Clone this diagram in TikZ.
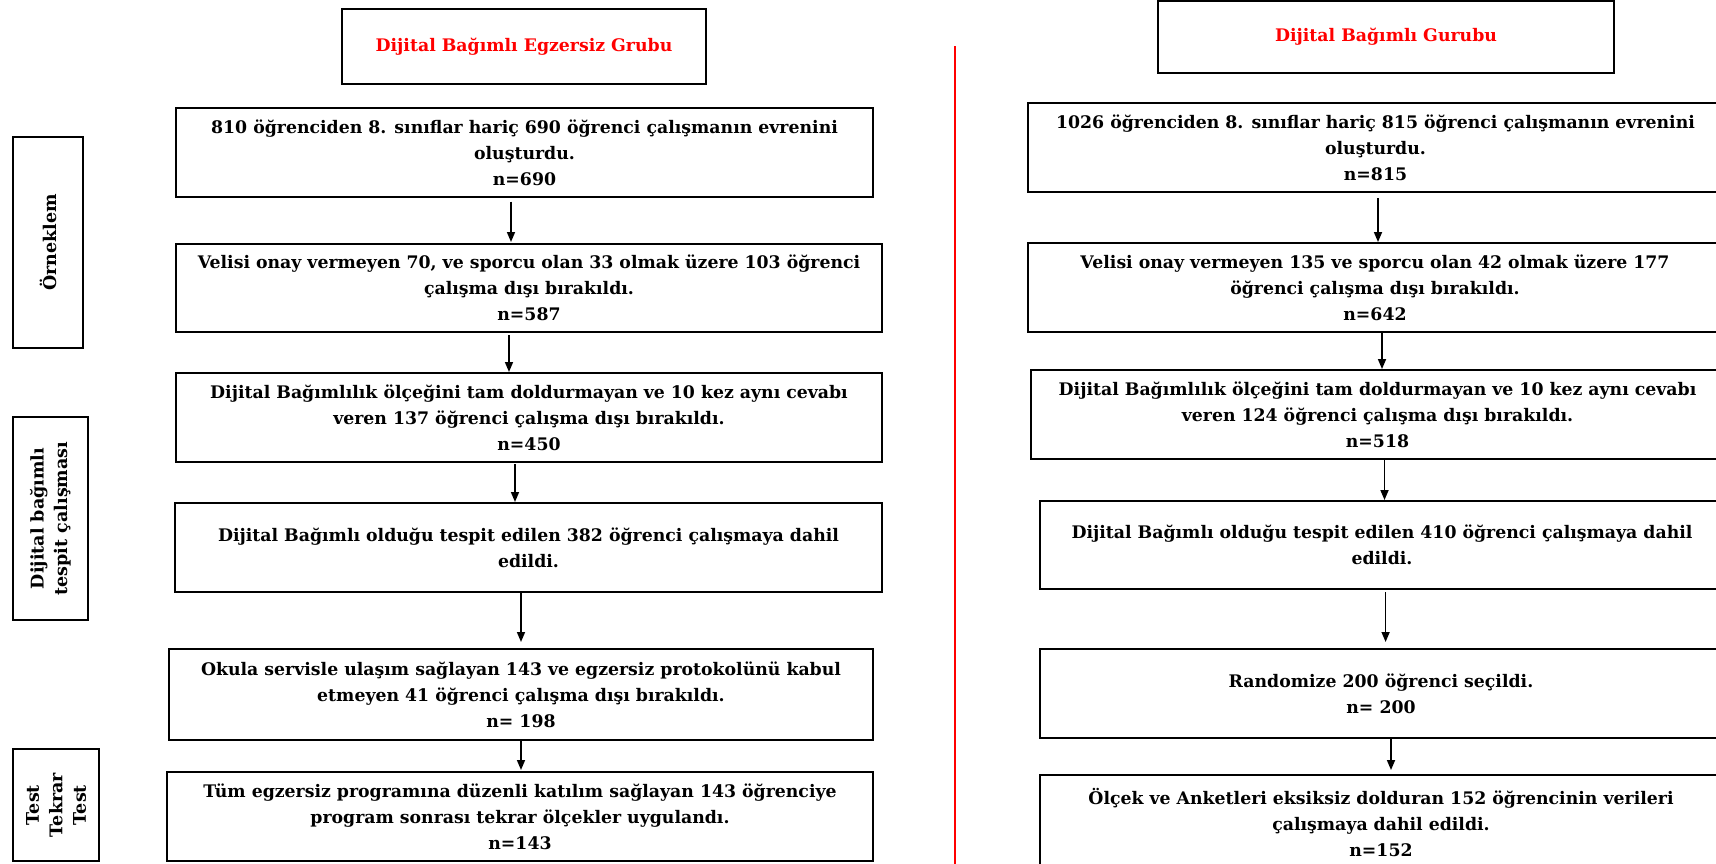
\documentclass[tikz,border=0pt]{standalone}
\usepackage{fontspec}
\setmainfont{DejaVu Serif}
\usetikzlibrary{arrows.meta}
\begin{document}
\begin{tikzpicture}[x=1pt,y=-1pt,
  stepbox/.style={draw=black,line width=2.5pt,inner sep=0pt,outer sep=0pt,align=center,
     font=\bfseries\fontsize{17.3}{25.8}\selectfont},
  titlebox/.style={stepbox,text=red},
  sidebox/.style={draw=black,line width=2.5pt,inner sep=0pt,outer sep=0pt,align=center,rotate=90,
     font=\bfseries\fontsize{17.5}{23.5}\selectfont},
  arr/.style={draw=black,line width=1.6pt,-{Triangle[length=10pt,width=8pt]}},
  divider/.style={draw=red,line width=2pt}]
\useasboundingbox (0,0) rectangle (1716,863);
\clip (0,0) rectangle (1716,863);
% titles
\node[titlebox,minimum width=364,minimum height=75] (LT) at (524,46.5) {Dijital Bağımlı Egzersiz Grubu};
\node[titlebox,minimum width=456,minimum height=72] (RT) at (1386,37) {Dijital Bağımlı Gurubu};
% divider
\coordinate (dtop) at (954.5,46);
\coordinate (dbot) at (954.5,870);
\draw[divider] (dtop) -- (dbot);
% side labels
\node[sidebox,minimum width=211,minimum height=70] (S1) at (48,242.5) {Örneklem};
\node[sidebox,minimum width=203,minimum height=75] (S2) at (50.5,518.5) {Dijital bağımlı\\tespit çalışması};
\node[sidebox,minimum width=112,minimum height=86] (S3) at (56,805) {Test\\Tekrar\\Test};
% left column
\node[stepbox,minimum width=697,minimum height=89] (L1) at (524.5,152.5) {810 öğrenciden 8. sınıflar hariç 690 öğrenci çalışmanın evrenini\\oluşturdu.\\n=690};
\node[stepbox,minimum width=706,minimum height=88] (L2) at (529,288) {Velisi onay vermeyen 70, ve sporcu olan 33 olmak üzere 103 öğrenci\\çalışma dışı bırakıldı.\\n=587};
\node[stepbox,minimum width=706,minimum height=89] (L3) at (529,417.5) {Dijital Bağımlılık ölçeğini tam doldurmayan ve 10 kez aynı cevabı\\veren 137 öğrenci çalışma dışı bırakıldı.\\n=450};
\node[stepbox,minimum width=707,minimum height=89] (L4) at (528.5,547.5) {Dijital Bağımlı olduğu tespit edilen 382 öğrenci çalışmaya dahil\\edildi.};
\node[stepbox,minimum width=704,minimum height=91] (L5) at (521,694.5) {Okula servisle ulaşım sağlayan 143 ve egzersiz protokolünü kabul\\etmeyen 41 öğrenci çalışma dışı bırakıldı.\\n= 198};
\node[stepbox,minimum width=706,minimum height=89] (L6) at (520,816.5) {Tüm egzersiz programına düzenli katılım sağlayan 143 öğrenciye\\program sonrası tekrar ölçekler uygulandı.\\n=143};
% right column
\node[stepbox,minimum width=695,minimum height=89] (R1) at (1375.5,147.5) {1026 öğrenciden 8. sınıflar hariç 815 öğrenci çalışmanın evrenini\\oluşturdu.\\n=815};
\node[stepbox,minimum width=694,minimum height=89] (R2) at (1375,287.5) {Velisi onay vermeyen 135 ve sporcu olan 42 olmak üzere 177\\öğrenci çalışma dışı bırakıldı.\\n=642};
\node[stepbox,minimum width=693,minimum height=89] (R3) at (1377.5,414.5) {Dijital Bağımlılık ölçeğini tam doldurmayan ve 10 kez aynı cevabı\\veren 124 öğrenci çalışma dışı bırakıldı.\\n=518};
\node[stepbox,minimum width=684,minimum height=88] (R4) at (1382,545) {Dijital Bağımlı olduğu tespit edilen 410 öğrenci çalışmaya dahil\\edildi.};
\node[stepbox,minimum width=682,minimum height=89] (R5) at (1381,693.5) {Randomize 200 öğrenci seçildi.\\n= 200};
\node[stepbox,minimum width=682,minimum height=95] (R6) at (1381,822.5) {Ölçek ve Anketleri eksiksiz dolduran 152 öğrencinin verileri\\çalışmaya dahil edildi.\\n=152};
% arrow x positions
\coordinate (xa1) at (511,0);
\coordinate (xa2) at (509,0);
\coordinate (xa3) at (515,0);
\coordinate (xa4) at (521,0);
\coordinate (xa5) at (521,0);
\coordinate (xb1) at (1378,0);
\coordinate (xb2) at (1382,0);
\coordinate (xb3) at (1384.5,0);
\coordinate (xb4) at (1385.6,0);
\coordinate (xb5) at (1391,0);
% arrows
\draw[arr,shorten <=4.5pt,shorten >=2pt] (L1.south -| xa1) -- (L2.north -| xa1);
\draw[arr,shorten <=3pt,shorten >=1pt] (L2.south -| xa2) -- (L3.north -| xa2);
\draw[arr,shorten <=2pt,shorten >=1pt] (L3.south -| xa3) -- (L4.north -| xa3);
\draw[arr,shorten <=1pt,shorten >=7pt] (L4.south -| xa4) -- (L5.north -| xa4);
\draw[arr,shorten <=1pt,shorten >=2pt] (L5.south -| xa5) -- (L6.north -| xa5);
\draw[arr,shorten <=6pt,shorten >=1pt] (R1.south -| xb1) -- (R2.north -| xb1);
\draw[arr,shorten <=1pt,shorten >=1pt] (R2.south -| xb2) -- (R3.north -| xb2);
\draw[arr,shorten <=1pt,shorten >=1pt] (R3.south -| xb3) -- (R4.north -| xb3);
\draw[arr,shorten <=3pt,shorten >=7pt] (R4.south -| xb4) -- (R5.north -| xb4);
\draw[arr,shorten <=1pt,shorten >=5pt] (R5.south -| xb5) -- (R6.north -| xb5);
\end{tikzpicture}
\end{document}
